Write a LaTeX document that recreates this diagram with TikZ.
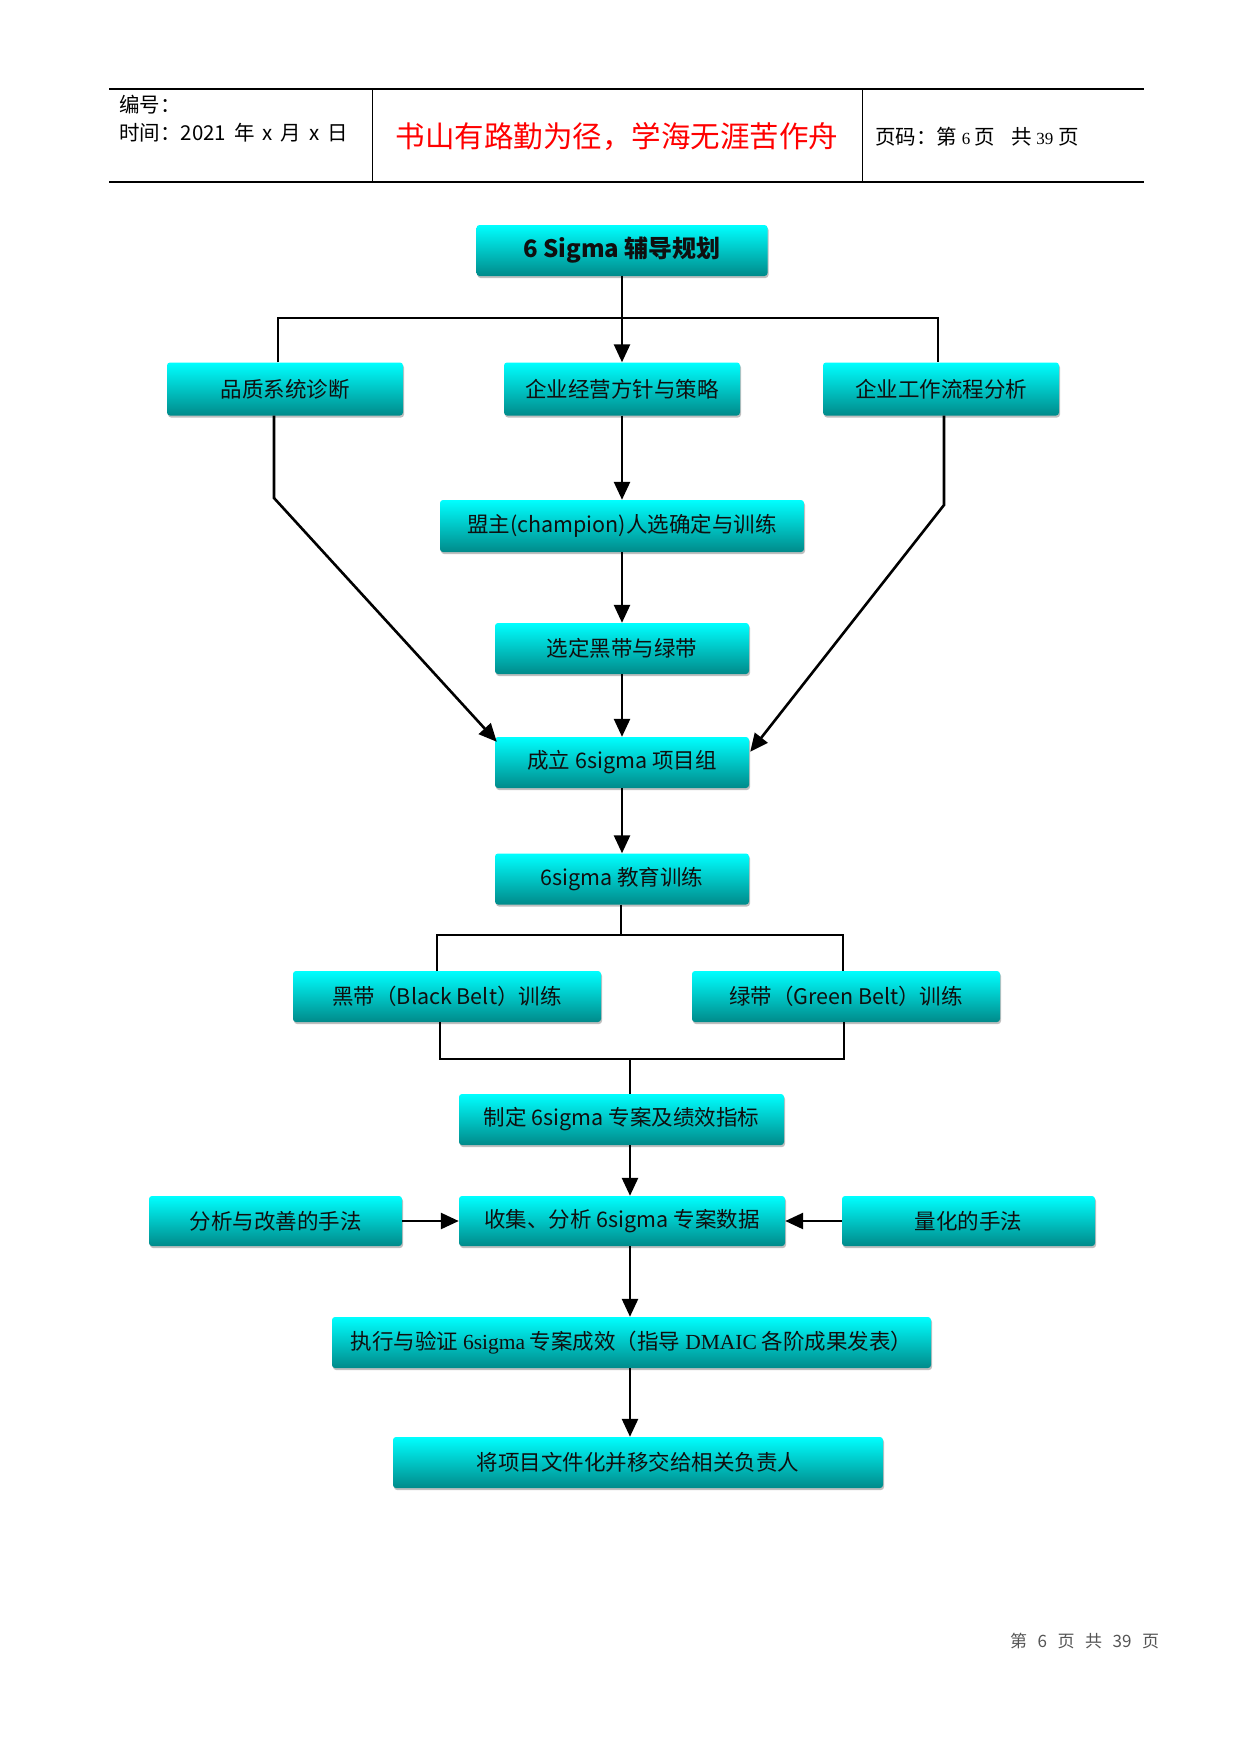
\documentclass[tikz,border=0pt]{standalone}
\usepackage{fontspec}
\setmainfont{Liberation Sans}
\newfontfamily\cjk{Noto Sans CJK SC}
\newfontfamily\serifl{Liberation Serif}
\usetikzlibrary{arrows.meta,shadows,calc}
\definecolor{cyt}{RGB}{0,255,255}
\definecolor{cym}{RGB}{0,222,222}
\definecolor{cyb}{RGB}{0,138,138}
\definecolor{boxtext}{RGB}{15,15,15}
\definecolor{footgrey}{RGB}{85,85,85}
\newcommand{\fgap}{\hspace*{10.5pt}}
\begin{document}
\begin{tikzpicture}[x=1pt,y=-1pt]
\tikzset{
  box/.style={draw=none, rounded corners=3pt, top color=cyt, middle color=cym, bottom color=cyb,
    minimum height=51pt, inner sep=0pt, font=\cjk\fontsize{21.5}{25}\selectfont, text=boxtext,
    drop shadow={shadow xshift=1pt, shadow yshift=-2pt, fill=black, opacity=0.25}},
  ln/.style={line width=2.6pt},
  arr/.style={line width=2.6pt, -{Triangle[length=18pt,width=16pt]}},
  hdr/.style={font=\cjk\fontsize{20.5}{24}\selectfont, inner sep=0pt}
}
\useasboundingbox[fill=white] (0,0) rectangle (1241,1754);

% header table
\draw[line width=1.8pt] (109,89) -- (1144,89);
\draw[line width=1.8pt] (109,182) -- (1144,182);
\draw[line width=1pt] (372,89) -- (372,182);
\draw[line width=1pt] (862,89) -- (862,182);
\node[hdr, anchor=west] (hno) at (119,105) {编号：};
\node[hdr, anchor=west] (htime) at (119,133) {时间：2021\, 年\, x\, 月\, x\, 日};
\node[hdr, font=\cjk\fontsize{29.5}{33}\selectfont, text=red] (hmotto) at (617,137) {书山有路勤为径，学海无涯苦作舟};
\node[hdr, anchor=west] (hpage) at (875,137) {页码：第 {\serifl\fontsize{17}{19}\selectfont 6} 页\;\; 共 {\serifl\fontsize{17}{19}\selectfont 39} 页};

% boxes
\node[box, minimum width=291pt, font=\cjk\bfseries\fontsize{24}{27}\selectfont] (b1) at (622,250.5) {6 Sigma 辅导规划};
\node[box, minimum width=236pt, minimum height=53pt] (b2) at (285,389) {品质系统诊断};
\node[box, minimum width=236pt, minimum height=53pt] (b3) at (622,389) {企业经营方针与策略};
\node[box, minimum width=236pt, minimum height=53pt] (b4) at (941,389) {企业工作流程分析};
\node[box, minimum width=364pt, minimum height=52pt] (b5) at (622,526) {盟主(champion)人选确定与训练};
\node[box, minimum width=254pt] (b6) at (622,648.5) {选定黑带与绿带};
\node[box, minimum width=254pt] (b7) at (622,762.5) {成立 6sigma 项目组};
\node[box, minimum width=254pt] (b8) at (622,879) {6sigma 教育训练};
\node[box, minimum width=308pt] (b9) at (447,996.5) {黑带（Black Belt）训练};
\node[box, minimum width=308pt] (b10) at (846,996.5) {绿带（Green Belt）训练};
\node[box, minimum width=325pt] (b11) at (621.5,1119.5) {制定 6sigma 专案及绩效指标};
\node[box, minimum width=253pt, minimum height=50pt] (b12) at (275.5,1221) {分析与改善的手法};
\node[box, minimum width=326pt, minimum height=50pt] (b13) at (622,1221) {收集、分析 6sigma 专案数据};
\node[box, minimum width=253pt, minimum height=50pt] (b14) at (968.5,1221) {量化的手法};
\node[box, minimum width=599pt] (b15) at (631.5,1342.5) {执行与验证 {\serifl 6sigma} 专案成效（指导 {\serifl DMAIC} 各阶成果发表）};
\node[box, minimum width=490pt] (b16) at (638,1462.5) {将项目文件化并移交给相关负责人};

% footer
\node[inner sep=0pt, anchor=west, text=footgrey, font=\cjk\fontsize{17}{19}\selectfont] (foot) at (1010,1641) {第\fgap 6\fgap 页\fgap 共\fgap 39\fgap 页};

% connectors
\coordinate (t1) at (278,318);
\coordinate (t2) at (938,318);
\draw[arr] (b1.south) -- (b3.north);
\draw[ln, line join=miter] (b2.north -| t1) -- (t1) -- (t2) -- (b4.north -| t2);
\draw[arr] (b3.south) -- (b5.north);
\coordinate (l1) at (274,498);
\coordinate (r1) at (944,505);
\draw[arr] (b2.south -| l1) -- (l1) -- ([shift={(2,5)}]b7.north west);
\draw[arr] (b4.south -| r1) -- (r1) -- ([shift={(1,15)}]b7.north east);
\draw[arr] (b5.south) -- (b6.north);
\draw[arr] (b6.south) -- (b7.north);
\draw[arr] (b7.south) -- (b8.north);
\coordinate (m1) at (621,935);
\coordinate (m1l) at (437,935);
\coordinate (m1r) at (843,935);
\draw[ln] (b8.south -| m1) -- (m1);
\draw[ln, line join=miter] (b9.north -| m1l) -- (m1l) -- (m1r) -- (b10.north -| m1r);
\coordinate (m2l) at (440,1059);
\coordinate (m2r) at (844,1059);
\coordinate (mc) at (630,1059);
\draw[ln, line join=miter] (b9.south -| m2l) -- (m2l) -- (m2r) -- (b10.south -| m2r);
\draw[ln] (mc) -- (b11.north -| mc);
\draw[arr] (b11.south -| mc) -- (b13.north -| mc);
\draw[arr] (b12.east) -- (b13.west);
\draw[arr] (b14.west) -- (b13.east);
\draw[arr] (b13.south -| mc) -- (b15.north -| mc);
\draw[arr] (b15.south -| mc) -- (b16.north -| mc);
\end{tikzpicture}
\end{document}
